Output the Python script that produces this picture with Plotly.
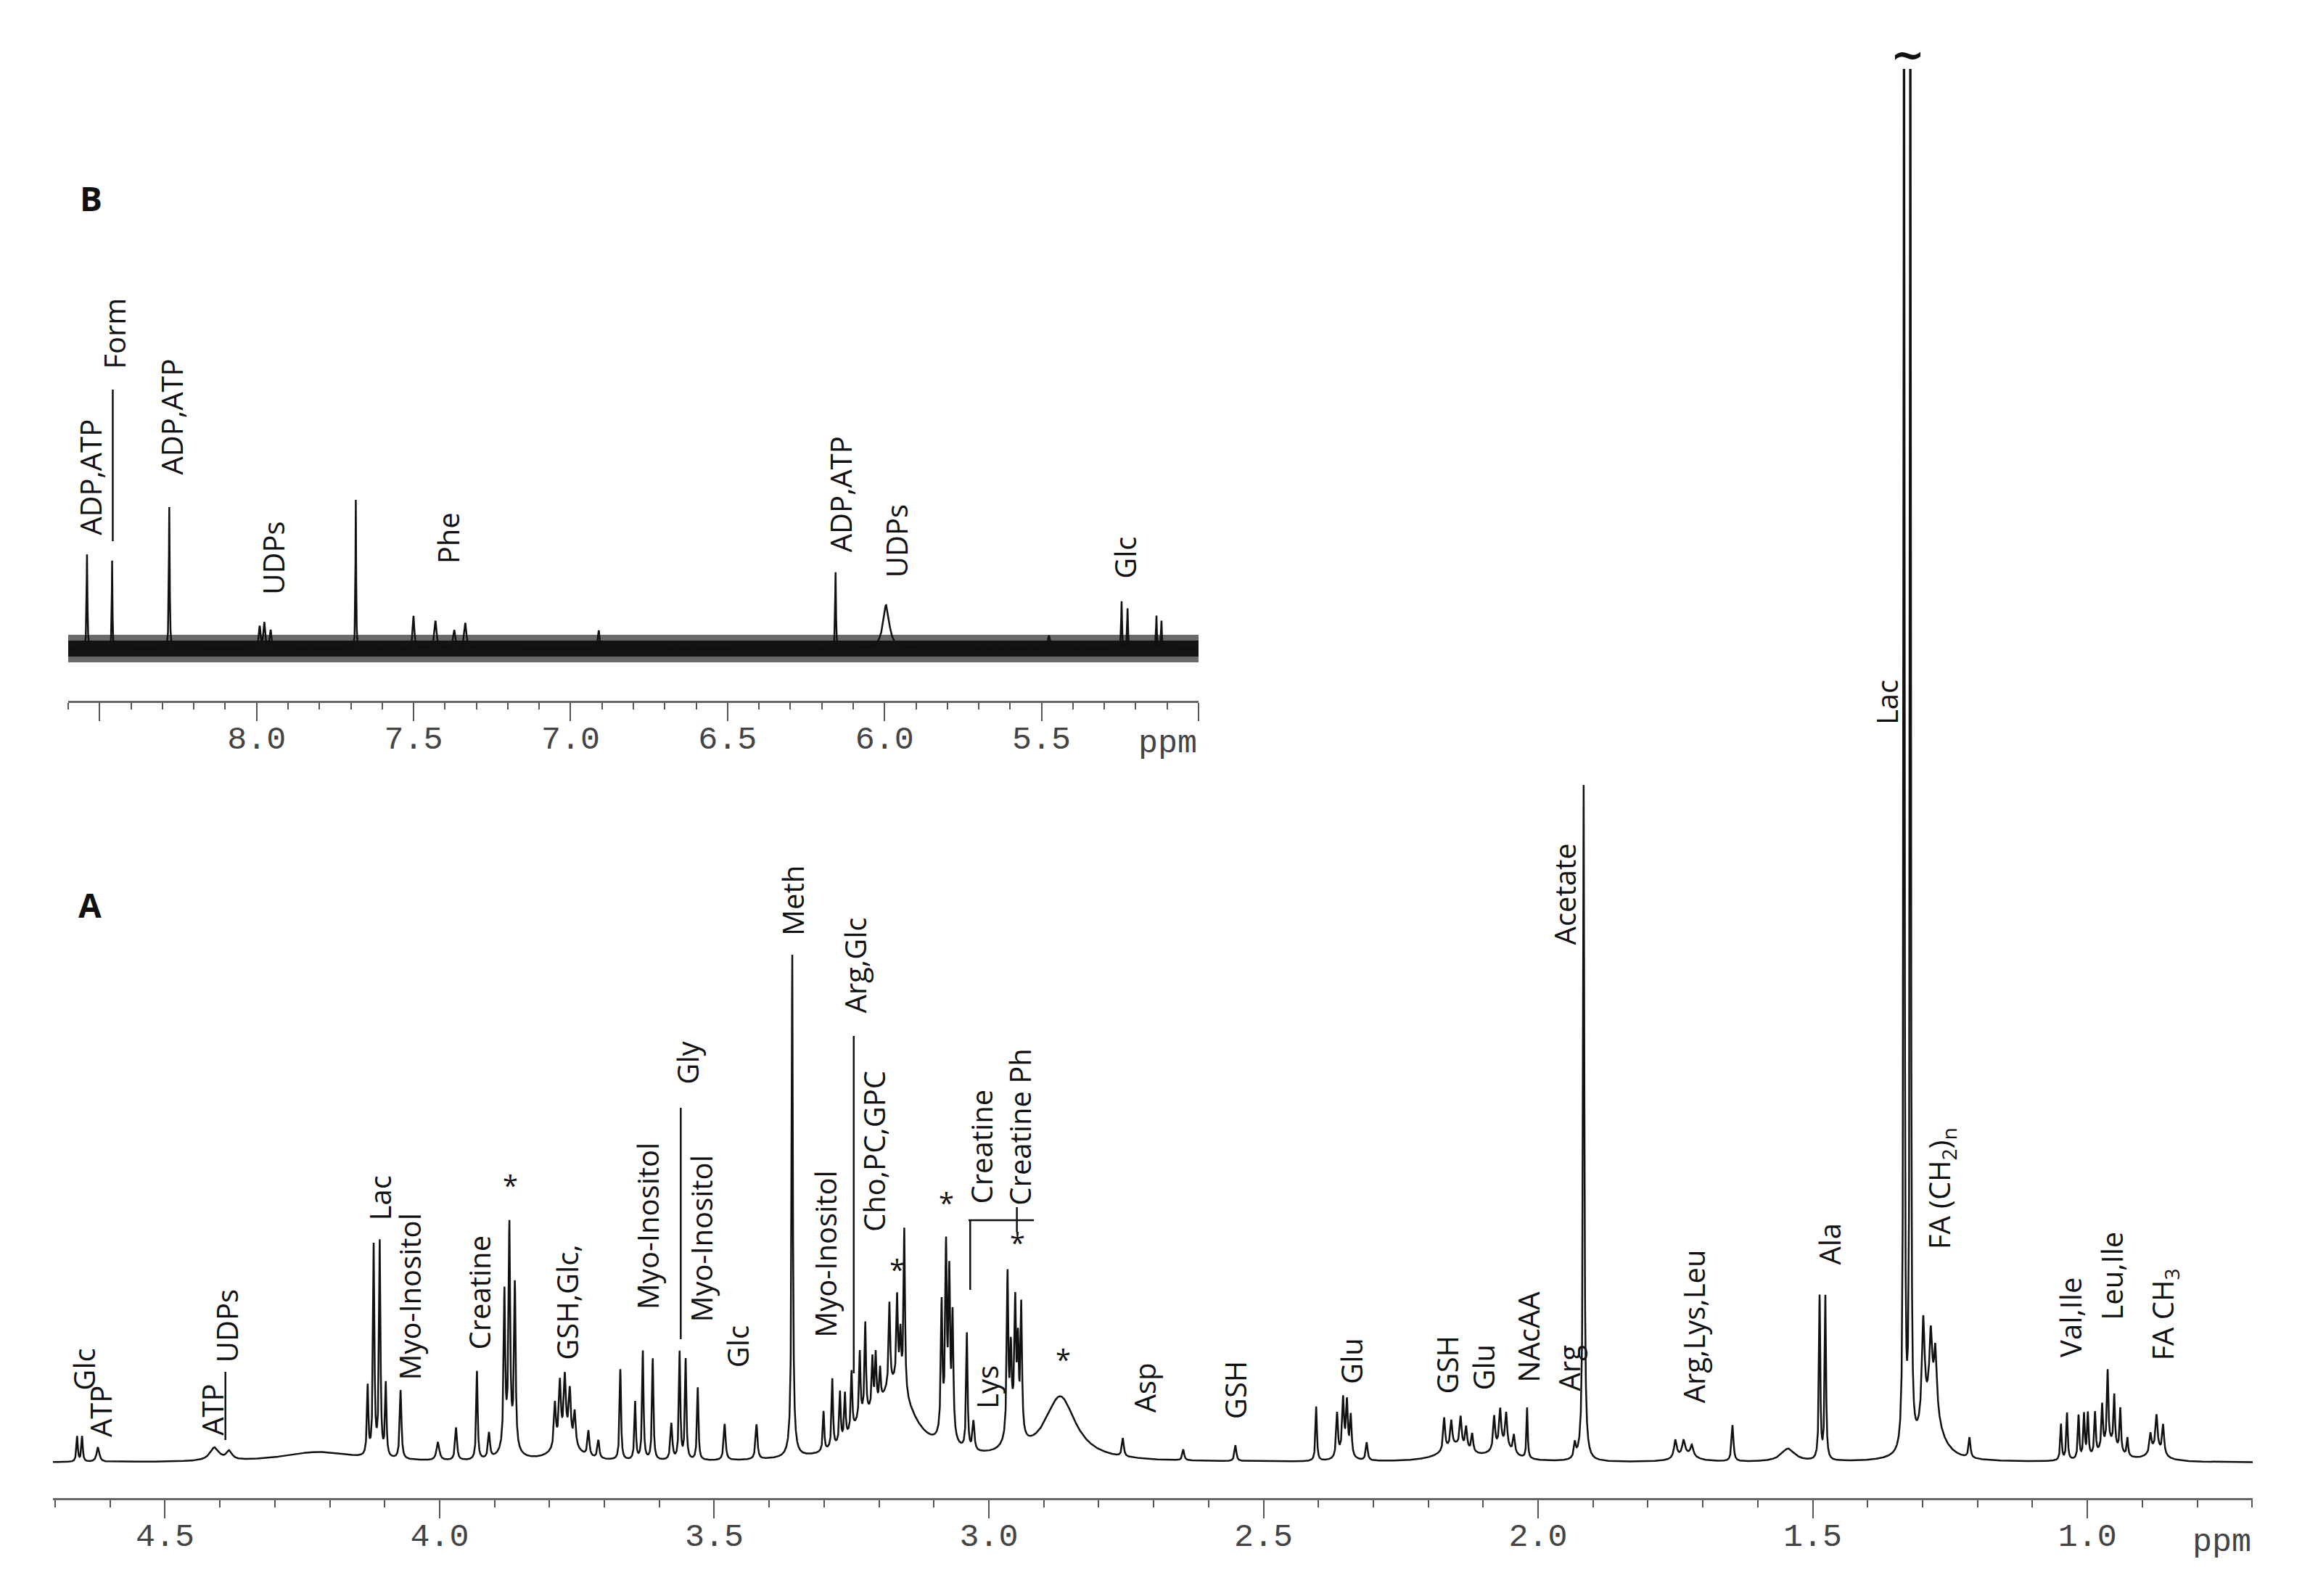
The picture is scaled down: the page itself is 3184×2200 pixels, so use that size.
import numpy as np
import plotly.graph_objects as go

W, H = 3184, 2200

# ---------------- Panel A (aliphatic region) : peaks ----------------
main_ppm = [4.660, 4.651, 4.622, 4.41, 4.383, 4.22,
            4.131, 4.120, 4.109, 4.098, 4.071, 4.003, 3.970, 3.932, 3.910,
            3.882, 3.873, 3.863, 3.873,
            3.790, 3.781, 3.772, 3.763, 3.754, 3.770,
            3.729, 3.711, 3.671, 3.644, 3.630, 3.612, 3.578, 3.563, 3.552, 3.530, 3.481, 3.423,
            3.358, 3.358,
            3.301, 3.285, 3.271, 3.262, 3.250, 3.235, 3.225, 3.212, 3.206, 3.198,
            3.181, 3.167, 3.161, 3.154, 3.170, 3.230,
            3.086, 3.078, 3.072, 3.066, 3.076,
            3.040, 3.028,
            2.966, 2.960, 2.952, 2.947, 2.941, 2.955,
            2.870,
            2.756, 2.646, 2.551, 2.404,
            2.366, 2.355, 2.348, 2.341, 2.353, 2.312,
            2.171, 2.158, 2.141, 2.131, 2.120, 2.150,
            2.080, 2.069, 2.058, 2.044, 2.065,
            2.020, 1.933,
            1.917, 1.917,
            1.750, 1.735, 1.720, 1.730,
            1.646, 1.545,
            1.4875, 1.477,
            1.3338, 1.3223,
            1.2987, 1.285, 1.2766, 1.285,
            1.2145,
            1.048, 1.037, 1.016, 1.006, 0.999, 0.986,
            0.973, 0.963, 0.951, 0.940, 0.927, 0.960,
            0.885, 0.874, 0.862, 0.875]
main_height = [35, 35, 20, 18, 12, 14,
               95, 290, 295, 100, 95, 25, 45, 122, 35,
               210, 290, 222, 30,
               60, 80, 80, 65, 45, 35,
               35, 25, 125, 80, 150, 140, 50, 148, 138, 100, 50, 48,
               670, 25,
               55, 95, 70, 62, 82, 92, 125, 70, 72, 45,
               115, 118, 70, 225, 100, 30,
               175, 235, 200, 160, 35,
               160, 40,
               220, 100, 160, 110, 175, 40,
               88,
               25, 15, 22, 75,
               60, 70, 68, 55, 15, 25,
               45, 35, 40, 30, 25, 22,
               45, 48, 45, 25, 22,
               70, 20,
               900, 35,
               25, 20, 15, 10,
               50, 18,
               225, 225,
               2600, 2600,
               140, 95, 85, 75,
               28,
               50, 65, 60, 60, 60, 58,
               60, 100, 70, 60, 25, 25,
               25, 45, 40, 18]
main_width = [0.0015, 0.0015, 0.003, 0.01, 0.006, 0.08,
              0.0015, 0.0015, 0.0015, 0.0015, 0.0018, 0.003, 0.002, 0.0015, 0.002,
              0.0016, 0.0016, 0.0016, 0.012,
              0.002, 0.002, 0.002, 0.002, 0.002, 0.02,
              0.002, 0.002, 0.0015, 0.0015, 0.0015, 0.0015, 0.002, 0.0015, 0.0015, 0.0015, 0.002, 0.002,
              0.0013, 0.006,
              0.0015, 0.0015, 0.0015, 0.0015, 0.0015, 0.0015, 0.0015, 0.0015, 0.0015, 0.0015,
              0.0016, 0.0016, 0.0016, 0.0015, 0.04, 0.03,
              0.0016, 0.0016, 0.0016, 0.0016, 0.01,
              0.0015, 0.002,
              0.0016, 0.0016, 0.0016, 0.0016, 0.0016, 0.012,
              0.034,
              0.002, 0.002, 0.002, 0.0015,
              0.0018, 0.0018, 0.0018, 0.0018, 0.01, 0.002,
              0.002, 0.002, 0.002, 0.002, 0.002, 0.03,
              0.002, 0.002, 0.002, 0.002, 0.02,
              0.0013, 0.002,
              0.0013, 0.005,
              0.003, 0.003, 0.003, 0.02,
              0.002, 0.015,
              0.0014, 0.0014,
              0.0009, 0.0009,
              0.003, 0.003, 0.003, 0.02,
              0.002,
              0.0015, 0.0015, 0.0015, 0.0015, 0.0015, 0.0015,
              0.0015, 0.0015, 0.0015, 0.0015, 0.0015, 0.02,
              0.002, 0.002, 0.002, 0.015]

# ---------------- Panel B (aromatic region) ----------------
inset_ppm = [8.54, 8.46, 8.278, 7.99, 7.975, 7.955, 7.684, 7.50, 7.43, 7.37, 7.335,
             6.91, 6.156, 5.995, 5.476, 5.245, 5.226, 5.134, 5.118]
inset_height = [130, 122, 195, 30, 35, 25, 205, 45, 38, 25, 35,
                25, 105, 60, 18, 65, 55, 45, 38]
inset_width = [0.0015, 0.0012, 0.0015, 0.003, 0.003, 0.003, 0.0012, 0.003, 0.004, 0.004, 0.004,
               0.003, 0.0015, 0.012, 0.004, 0.0015, 0.0015, 0.0015, 0.0015]
inset_noise_outer = 19
inset_noise_inner = 11

# ---------------- labels ----------------
main_labels = ["Glc", "ATP", "ATP", "UDPs", "Lac", "Myo-Inositol", "Creatine", "GSH,Glc,",
               "Myo-Inositol", "Myo-Inositol", "Gly", "Glc", "Meth", "Myo-Inositol", "Arg,Glc",
               "Cho,PC,GPC", "Creatine", "Creatine Ph", "Lys", "Asp", "GSH", "Glu", "GSH", "Glu",
               "NAcAA", "Arg", "Acetate", "Arg,Lys,Leu", "Ala", "FA (CH<sub>2</sub>)<sub>n</sub>",
               "Lac", "Val,Ile", "Leu,Ile", "FA CH<sub>3</sub>"]
main_label_ppm = [4.649, 4.618, 4.415, 4.388, 4.109, 4.056, 3.928, 3.769,
                  3.622, 3.525, 3.550, 3.458, 3.358, 3.299, 3.245,
                  3.210, 3.014, 2.945, 3.004, 2.717, 2.552, 2.341, 2.166, 2.101,
                  2.019, 1.944, 1.952, 1.717, 1.471, 1.268,
                  1.366, 1.032, 0.957, 0.862]
main_label_y = [128, 70, 73, 188, 365, 228, 235, 221,
                326, 308, 551, 160, 775, 287, 685,
                429, 436, 463, 104, 103, 100, 140, 135, 131,
                173, 130, 784, 188, 301, 378,
                1048, 200, 257, 204]
star_ppm = [3.871, 3.167, 3.077, 2.948, 2.865]
star_y = [383, 267, 359, 304, 143]

inset_labels = ["ADP,ATP", "Form", "ADP,ATP", "UDPs", "Phe", "ADP,ATP", "UDPs", "Glc"]
inset_label_ppm = [8.531, 8.455, 8.273, 7.949, 7.391, 6.141, 5.963, 5.236]
inset_label_y = [236, 434, 319, 125, 152, 213, 148, 125]

main_ticks = [4.5, 4.0, 3.5, 3.0, 2.5, 2.0, 1.5, 1.0]
main_ticktext = ["4.5", "4.0", "3.5", "3.0", "2.5", "2.0", "1.5", "1.0"]
inset_ticks = [8.5, 8.0, 7.5, 7.0, 6.5, 6.0, 5.5, 5.0]
inset_ticktext = ["", "8.0", "7.5", "7.0", "6.5", "6.0", "5.5", ""]


def spectrum(grid, ppm, h, w):
    y = np.zeros_like(grid)
    for p, a, g in zip(ppm, h, w):
        y += a / (1.0 + ((grid - p) / g) ** 2)
    return y


x_main = np.linspace(0.699, 4.704, 24000)
y_main = spectrum(x_main, main_ppm, main_height, main_width)
x_in = np.linspace(5.0, 8.6, 14000)
y_in = spectrum(x_in, inset_ppm, inset_height, inset_width)

LINE = "#111111"
fig = go.Figure()
# noise band of panel B (outer fringe + dense core)
for amp, col in [(inset_noise_outer, "#6a6a6a"), (inset_noise_inner, "#141414")]:
    fig.add_trace(go.Scatter(x=np.concatenate([x_in, x_in[::-1]]),
                             y=np.concatenate([np.full_like(x_in, amp), np.full_like(x_in, -amp)]),
                             fill="toself", fillcolor=col, line=dict(width=0), mode="lines",
                             xaxis="x2", yaxis="y2", hoverinfo="skip"))
fig.add_trace(go.Scatter(x=x_in, y=y_in, mode="lines", line=dict(color=LINE, width=2.5),
                         xaxis="x2", yaxis="y2"))
fig.add_trace(go.Scatter(x=x_main, y=y_main, mode="lines", line=dict(color=LINE, width=2.5),
                         xaxis="x", yaxis="y"))

LABFONT = dict(family="Open Sans", size=40, color="#111111")
ann = []
for t, p, yv in zip(main_labels, main_label_ppm, main_label_y):
    ann.append(dict(x=p, y=yv, xref="x", yref="y", text=t, textangle=-90, showarrow=False,
                    xanchor="center", yanchor="middle", font=LABFONT))
for p, yv in zip(star_ppm, star_y):
    ann.append(dict(x=p, y=yv, xref="x", yref="y", text="*", showarrow=False,
                    xanchor="center", yanchor="middle", font=dict(family="Open Sans", size=38, color="#111")))
for t, p, yv in zip(inset_labels, inset_label_ppm, inset_label_y):
    ann.append(dict(x=p, y=yv, xref="x2", yref="y2", text=t, textangle=-90, showarrow=False,
                    xanchor="center", yanchor="middle", font=LABFONT))
TICKFONT = dict(family="Liberation Mono", size=45, color="#444444")
ann.append(dict(x=0.699, y=1 - 2118 / H, xref="x", yref="paper", text="ppm", showarrow=False,
                xanchor="right", yanchor="middle", font=TICKFONT))
ann.append(dict(x=5.0, y=1 - 1017 / H, xref="x2", yref="paper", text="ppm", showarrow=False,
                xanchor="right", yanchor="middle", font=TICKFONT))
ann.append(dict(x=117 / W, y=1 - 265 / H, xref="paper", yref="paper", text="<b>B</b>", showarrow=False,
                xanchor="center", yanchor="middle", font=dict(family="Open Sans", size=46, color="#111")))
ann.append(dict(x=116 / W, y=1 - 1239 / H, xref="paper", yref="paper", text="<b>A</b>", showarrow=False,
                xanchor="center", yanchor="middle", font=dict(family="Open Sans", size=46, color="#111")))
ann.append(dict(x=1.327, y=1 - 66 / H, xref="x", yref="paper", text="<b>~</b>", showarrow=False,
                xanchor="center", yanchor="middle", font=dict(family="DejaVu Sans", size=56, color="#111")))

shp = []
def vline(xr, yr, x, y0, y1):
    shp.append(dict(type="line", xref=xr, yref=yr, x0=x, x1=x, y0=y0, y1=y1,
                    line=dict(color=LINE, width=2.5)))
def hline(xr, yr, x0, x1, y):
    shp.append(dict(type="line", xref=xr, yref=yr, x0=x0, x1=x1, y0=y, y1=y,
                    line=dict(color=LINE, width=2.5)))

vline("x2", "y2", 8.458, 148, 357)      # Form leader
vline("x", "y", 4.390, 31, 125)         # ATP / UDPs
vline("x", "y", 3.561, 170, 489)        # Gly
vline("x", "y", 3.246, 123, 588)        # Arg,Glc
hline("x", "y", 3.037, 2.918, 334)      # creatine bracket
vline("x", "y", 3.034, 238, 334)
vline("x", "y", 2.949, 318, 352)

minor_main = [round(v, 1) for v in np.arange(0.7, 4.75, 0.1) if abs(v * 2 - round(v * 2)) > 1e-6]
minor_inset = [round(v, 1) for v in np.arange(5.0, 8.65, 0.1) if abs(v * 2 - round(v * 2)) > 1e-6]

common_x = dict(showgrid=False, zeroline=False, showline=True, linecolor="#666666", linewidth=3,
                ticks="outside", ticklen=25, tickwidth=2, tickcolor="#555555",
                tickfont=TICKFONT, ticklabelstandoff=-16, tickmode="array")

fig.update_layout(
    width=W, height=H, margin=dict(l=0, r=0, t=0, b=0),
    paper_bgcolor="white", plot_bgcolor="rgba(0,0,0,0)", showlegend=False,
    xaxis=dict(domain=[65 / W, 3097 / W], range=[4.704, 0.699], anchor="y",
               tickvals=main_ticks, ticktext=main_ticktext,
               minor=dict(tickvals=minor_main, ticklen=10, tickwidth=2, tickcolor="#555555", ticks="outside"),
               **common_x),
    yaxis=dict(domain=[(H - 2057) / H, (H - 87) / H], range=[-49, 1921], visible=False, fixedrange=True),
    xaxis2=dict(domain=[86 / W, 1644 / W], range=[8.60, 5.00], anchor="y2",
                tickvals=inset_ticks, ticktext=inset_ticktext,
                minor=dict(tickvals=minor_inset, ticklen=9, tickwidth=2, tickcolor="#555555", ticks="outside"),
                **common_x),
    yaxis2=dict(domain=[(H - 958) / H, (H - 380) / H], range=[-72, 506], anchor="x2", visible=False),
    annotations=ann, shapes=shp,
)

fig.write_html("out.html")
